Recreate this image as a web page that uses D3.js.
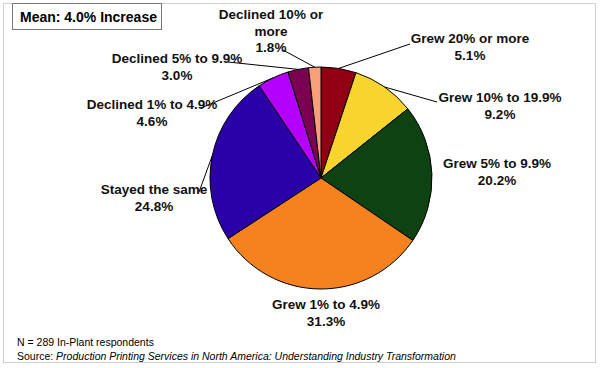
<!DOCTYPE html>
<html>
<head>
<meta charset="utf-8">
<script src="https://cdn.jsdelivr.net/npm/d3@7"></script>
<style>
  body { margin: 0; background: #fff; }
  text { font-family: "Liberation Sans", Arial, sans-serif; }
</style>
</head>
<body>
<div id="chart-area"></div>
<script>
// slices, clockwise from 12 o'clock
const categories = ["Grew 20% or more", "Grew 10% to 19.9%", "Grew 5% to 9.9%", "Grew 1% to 4.9%",
  "Stayed the same", "Declined 1% to 4.9%", "Declined 5% to 9.9%", "Declined 10% or more"]
const values = [5.1, 9.2, 20.2, 31.3, 24.8, 4.6, 3.0, 1.8]
const colors = ["#900012", "#f7d52e", "#0e4212", "#f5821f", "#2a00a8", "#b300ff", "#7c0052", "#f7a07a"]

// label layout: text lines, center x, first baseline, leader anchor (null = none)
const labelLayout = [
  { lines: ["Grew 20% or more", "5.1%"], x: 470, y: 43, anchor: [410, 44] },
  { lines: ["Grew 10% to 19.9%", "9.2%"], x: 500, y: 102, anchor: [437, 102] },
  { lines: ["Grew 5% to 9.9%", "20.2%"], x: 497, y: 168, anchor: null },
  { lines: ["Grew 1% to 4.9%", "31.3%"], x: 326, y: 309, anchor: null },
  { lines: ["Stayed the same", "24.8%"], x: 154, y: 194, anchor: [199, 192] },
  { lines: ["Declined 1% to 4.9%", "4.6%"], x: 152, y: 109, anchor: [201, 108] },
  { lines: ["Declined 5% to 9.9%", "3.0%"], x: 177, y: 63, anchor: [228, 62] },
  { lines: ["Declined 10% or", "more", "1.8%"], x: 271, y: 19, anchor: [283, 50] }
]

const width = 600, height = 368
const cx = 321, cy = 178, r = 111

const svg = d3.select("#chart-area").append("svg")
	.attr("width", width)
	.attr("height", height)

// outer frame
svg.append("rect")
	.attr("x", 3.5).attr("y", 3.5)
	.attr("width", 592).attr("height", 359)
	.attr("fill", "none")
	.attr("stroke", "#d0d0d0")

// mean box
svg.append("rect")
	.attr("x", 12.5).attr("y", 3.5)
	.attr("width", 149).attr("height", 26)
	.attr("fill", "#fff")
	.attr("stroke", "#777")
svg.append("text")
	.attr("x", 20).attr("y", 22)
	.attr("font-size", 14).attr("font-weight", "bold")
	.text("Mean: 4.0% Increase")

const pie = d3.pie().sort(null).value(d => d)
const arcs = pie(values)
const arc = d3.arc().innerRadius(0).outerRadius(r)

const g = svg.append("g").attr("transform", `translate(${cx},${cy})`)

g.selectAll("path")
	.data(arcs)
	.enter().append("path")
		.attr("d", arc)
		.attr("fill", (d, i) => colors[i])
		.attr("stroke", "#000")
		.attr("stroke-width", 1)

// leader lines, from slice edge (mid angle) to label
arcs.forEach((d, i) => {
	const lay = labelLayout[i]
	if (!lay.anchor) return
	const a = (d.startAngle + d.endAngle) / 2
	svg.append("line")
		.attr("x1", cx + r * Math.sin(a))
		.attr("y1", cy - r * Math.cos(a))
		.attr("x2", lay.anchor[0])
		.attr("y2", lay.anchor[1])
		.attr("stroke", "#000")
		.attr("stroke-width", 1)
})

// labels
labelLayout.forEach((lay, i) => {
	const t = svg.append("text")
		.attr("text-anchor", "middle")
		.attr("font-size", 13.5)
		.attr("font-weight", "bold")
		.attr("fill", "#111")
	lay.lines.forEach((s, k) => {
		t.append("tspan")
			.attr("x", lay.x)
			.attr("y", lay.y + k * 16.5)
			.text(s)
	})
})

// footer
svg.append("text")
	.attr("x", 17).attr("y", 346)
	.attr("font-size", 10.5)
	.text("N = 289 In-Plant respondents")
const src = svg.append("text")
	.attr("x", 17).attr("y", 360)
	.attr("font-size", 10.5)
src.append("tspan").text("Source: ")
src.append("tspan").attr("font-style", "italic")
	.text("Production Printing Services in North America: Understanding Industry Transformation")
</script>
</body>
</html>
